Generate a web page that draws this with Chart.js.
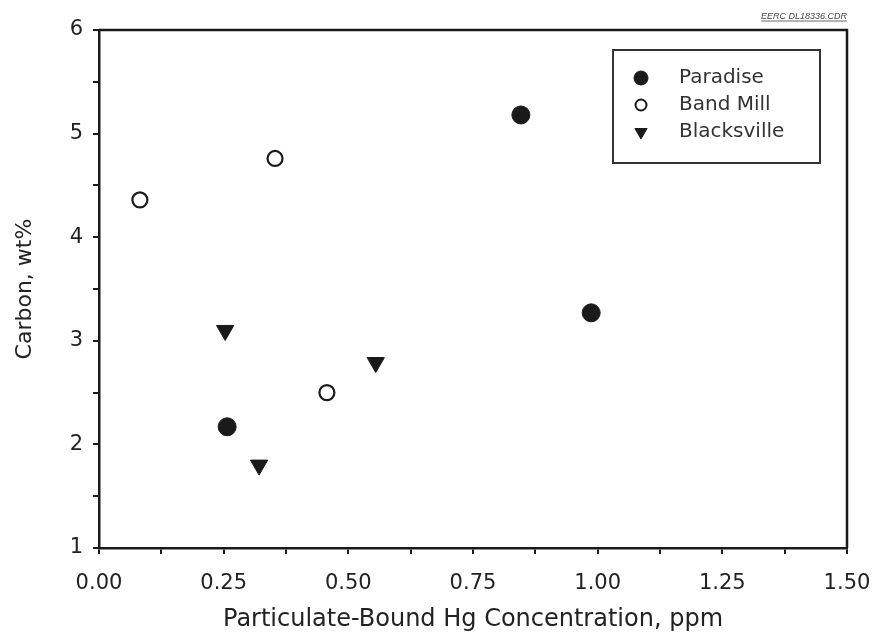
<!DOCTYPE html>
<html>
<head>
<meta charset="utf-8">
<script src="https://cdn.jsdelivr.net/npm/chart.js@4"></script>
<style>
  body { margin: 0; background: #fff; }
  #wrap { width: 874px; height: 637px; }
</style>
</head>
<body>
<div id="wrap"><canvas id="c" width="874" height="637"></canvas></div>
<script>
// values
var seriesNames = ['Paradise', 'Band Mill', 'Blacksville'];
var paradiseX = [0.846, 0.987, 0.257];
var paradiseY = [5.18, 3.27, 2.17];
var bandMillX = [0.082, 0.353, 0.457];
var bandMillY = [4.36, 4.76, 2.50];
var blacksvilleX = [0.253, 0.321, 0.555];
var blacksvilleY = [3.10, 1.80, 2.79];
var xTicks = [0, 0.25, 0.5, 0.75, 1, 1.25, 1.5];
var yTicks = [1, 2, 3, 4, 5, 6];

var ink = '#1a1a1a';
var fam = '"DejaVu Sans", Verdana, sans-serif';

function pts(xs, ys) {
    return xs.map(function (x, i) { return { x: x, y: ys[i] }; });
}

function isMajor(v, list) {
    return list.some(function (t) { return Math.abs(t - v) < 1e-6; });
}

var styles = [
    { pointStyle: 'circle', pointRadius: 9, backgroundColor: ink, borderColor: ink, borderWidth: 1, pointRotation: 0 },
    { pointStyle: 'circle', pointRadius: 7.5, backgroundColor: '#fff', borderColor: ink, borderWidth: 2.2, pointRotation: 0 },
    { pointStyle: 'triangle', pointRadius: 10, backgroundColor: ink, borderColor: ink, borderWidth: 1, pointRotation: 180 }
];

var datasets = [pts(paradiseX, paradiseY), pts(bandMillX, bandMillY), pts(blacksvilleX, blacksvilleY)]
    .map(function (d, i) {
        return Object.assign({ label: seriesNames[i], data: d }, styles[i]);
    });

// frame, legend box and the drawing id
var extras = {
    id: 'extras',
    afterDraw: function (chart) {
        var ctx = chart.ctx, a = chart.chartArea;
        ctx.save();
        ctx.strokeStyle = ink;
        ctx.lineWidth = 2.5;
        ctx.beginPath();
        ctx.moveTo(a.left, a.top);
        ctx.lineTo(a.right, a.top);
        ctx.lineTo(a.right, a.bottom);
        ctx.stroke();

        // legend
        var bx = 613, by = 50, bw = 207, bh = 113;
        ctx.lineWidth = 2;
        ctx.strokeStyle = '#333';
        ctx.strokeRect(bx, by, bw, bh);
        ctx.font = '20px ' + fam;
        ctx.textBaseline = 'middle';
        ctx.fillStyle = '#333';
        var rows = [78, 105, 132];
        chart.data.datasets.forEach(function (ds, i) {
            var cx = 641, cy = rows[i];
            ctx.save();
            ctx.fillStyle = ds.backgroundColor;
            ctx.strokeStyle = ds.borderColor;
            ctx.lineWidth = i === 1 ? 2 : 1;
            Chart.helpers.drawPoint(ctx, {
                pointStyle: ds.pointStyle,
                radius: i === 1 ? 5.5 : 7,
                rotation: ds.pointRotation,
                borderWidth: ctx.lineWidth
            }, cx, cy);
            ctx.restore();
            ctx.fillText(ds.label, 679, cy);
        });

        // small drawing id
        ctx.font = 'italic 9px "Liberation Sans", Arial, sans-serif';
        ctx.textAlign = 'right';
        ctx.textBaseline = 'alphabetic';
        ctx.fillStyle = '#444';
        var txt = 'EERC DL18336.CDR';
        ctx.fillText(txt, a.right, 19);
        var w = ctx.measureText(txt).width;
        ctx.lineWidth = 0.8;
        ctx.strokeStyle = '#444';
        ctx.beginPath();
        ctx.moveTo(a.right - w, 21);
        ctx.lineTo(a.right, 21);
        ctx.stroke();
        ctx.restore();
    }
};

Chart.defaults.font.family = fam;
Chart.defaults.color = '#222';

new Chart(document.getElementById('c'), {
    type: 'scatter',
    data: { datasets: datasets },
    options: {
        responsive: false,
        animation: false,
        layout: { padding: { left: 0, top: 30, right: 27, bottom: 0 } },
        plugins: { legend: { display: false }, tooltip: { enabled: false } },
        scales: {
            x: {
                type: 'linear',
                min: 0, max: 1.5,
                afterFit: function (s) {
                    s.height = 89;
                    s.paddingLeft = 0;
                    s.paddingRight = 0;
                },
                afterBuildTicks: function (s) {
                    var t = [];
                    for (var v = 0; v <= 1.5001; v += 0.125) t.push({ value: +v.toFixed(3) });
                    s.ticks = t;
                },
                grid: { drawOnChartArea: false, color: ink, lineWidth: 2, tickLength: 6 },
                border: { color: ink, width: 2.5 },
                ticks: {
                    padding: 17,
                    font: { size: 21 },
                    maxRotation: 0,
                    autoSkip: false,
                    callback: function (v) { return isMajor(v, xTicks) ? v.toFixed(2) : ''; }
                },
                title: {
                    display: true,
                    text: 'Particulate-Bound Hg Concentration, ppm',
                    font: { size: 24 },
                    padding: { top: 0, bottom: 3 }
                }
            },
            y: {
                type: 'linear',
                min: 1, max: 6,
                afterFit: function (s) {
                    s.width = 99;
                    s.paddingTop = 0;
                    s.paddingBottom = 0;
                },
                afterBuildTicks: function (s) {
                    var t = [];
                    for (var v = 1; v <= 6.001; v += 0.5) t.push({ value: v });
                    s.ticks = t;
                },
                grid: { drawOnChartArea: false, color: ink, lineWidth: 2, tickLength: 6 },
                border: { color: ink, width: 2.5 },
                ticks: {
                    padding: 10,
                    font: { size: 21 },
                    autoSkip: false,
                    callback: function (v) { return isMajor(v, yTicks) ? String(v) : ''; }
                },
                title: {
                    display: true,
                    text: 'Carbon, wt%',
                    font: { size: 22 },
                    padding: { top: 12, bottom: 0 }
                }
            }
        }
    },
    plugins: [extras]
});
</script>
</body>
</html>
